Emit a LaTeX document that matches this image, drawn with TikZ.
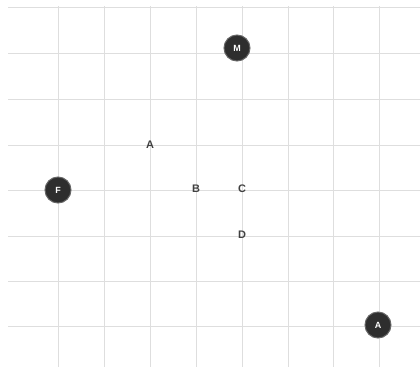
\documentclass[tikz,border=0pt]{standalone}
\usepackage{fontspec}
\setmainfont{Liberation Sans}
\begin{document}
\begin{tikzpicture}[x=1bp,y=-1bp,
  gridline/.style={draw=black!13,line width=0.9bp},
  darkdot/.style={circle,fill=black!82,draw=black!60,line width=1bp,minimum size=26bp,inner sep=0pt,text=white,font=\fontsize{9}{9}\selectfont\bfseries},
  plainlabel/.style={inner sep=1bp,text=black!75,font=\fontsize{11}{11}\selectfont\bfseries}]
\useasboundingbox[fill=white] (0,0) rectangle (420,367);
% grid
\foreach \gx in {58,104,150,196,242,288,333,379}
  \draw[gridline] (\gx,6) -- (\gx,367);
\foreach \gy in {7,53,99,145,190,236,281,326}
  \draw[gridline] (8,\gy) -- (420,\gy);
% nodes
\node[darkdot] (M) at (237,48) {M};
\node[darkdot] (F) at (58,190) {F};
\node[darkdot] (Aa) at (378,325) {A};
\node[plainlabel] (A) at (150,145) {A};
\node[plainlabel] (B) at (196,189) {B};
\node[plainlabel] (C) at (242,189) {C};
\node[plainlabel] (D) at (242,235) {D};
\end{tikzpicture}
\end{document}
